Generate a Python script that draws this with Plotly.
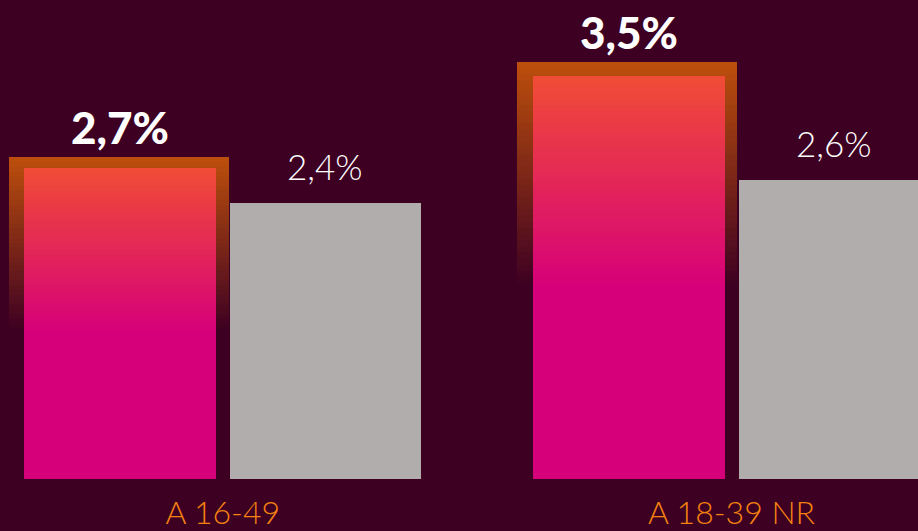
import plotly.graph_objects as go

categories = ["A 16-49", "A 18-39 NR"]
highlight_values = [2.7, 3.5]
compare_values = [2.4, 2.6]
highlight_labels = ["2,7%", "3,5%"]
compare_labels = ["2,4%", "2,6%"]

BG = "#3d0022"
GRAY = "#b0adac"
ORANGE_TXT = "#f5820f"

def lerp(c1, c2, t):
    return "rgb({},{},{})".format(*[round(a + (b - a) * t) for a, b in zip(c1, c2)])

glow_top = (187, 78, 12)
bg_rgb = (61, 0, 34)
inner_top = (240, 75, 55)
pink = (214, 0, 122)

off = 0.2015
w_inner = 0.3774
w_glow = 0.4324
w_gray = 0.3754
glow_scale = 1.036
N = 36

xi = list(range(len(categories)))
x_high = [i - off for i in xi]
x_glow = [i - off - 0.003 for i in xi]
x_gray = [i + off for i in xi]

fig = go.Figure()

# glow (orange halo fading into background)
fade_g = 0.53
for k in range(N + 1):
    t = k / N
    frac = 1 - fade_g * t
    fig.add_trace(go.Bar(
        x=x_glow, y=[v * glow_scale * frac for v in highlight_values],
        width=w_glow, marker=dict(color=lerp(glow_top, bg_rgb, t), line=dict(width=0)),
        hoverinfo="skip", showlegend=False))

# highlighted bar with vertical gradient
fade_i = 0.52
for k in range(N + 1):
    t = k / N
    frac = 1 - fade_i * t
    fig.add_trace(go.Bar(
        x=x_high, y=[v * frac for v in highlight_values],
        width=w_inner, marker=dict(color=lerp(inner_top, pink, t), line=dict(width=0)),
        hoverinfo="skip", showlegend=False))

# comparison bars
fig.add_trace(go.Bar(
    x=x_gray, y=compare_values, width=w_gray,
    marker=dict(color=GRAY, line=dict(width=0)),
    hoverinfo="skip", showlegend=False))

annotations = []
for i in xi:
    annotations.append(dict(
        x=x_high[i], y=highlight_values[i] * glow_scale, xref="x", yref="y",
        text=highlight_labels[i], showarrow=False, yanchor="bottom", yshift=2,
        font=dict(family="Lato", size=44, color="white", weight=900)))
    annotations.append(dict(
        x=x_gray[i], y=compare_values[i], xref="x", yref="y",
        text=compare_labels[i], showarrow=False, yanchor="bottom", yshift=14,
        font=dict(family="Lato", size=35, color="white", weight=300)))

fig.update_layout(
    width=918, height=531,
    margin=dict(l=0, r=0, t=0, b=52),
    paper_bgcolor=BG, plot_bgcolor=BG,
    barmode="overlay", bargap=0,
    annotations=annotations,
    xaxis=dict(range=[-0.4378, 1.3666], tickvals=xi, ticktext=categories,
               showgrid=False, zeroline=False, showline=False, ticks="",
               ticklabelstandoff=12,
               tickfont=dict(family="Lato", size=32, color=ORANGE_TXT, weight=300),
               fixedrange=True),
    yaxis=dict(range=[0, 4.165], showgrid=False, zeroline=False, showline=False,
               showticklabels=False, ticks="", fixedrange=True),
)

fig.write_html(
    "out.html",
    config={"displayModeBar": False},
    post_script="document.body.style.margin='0';document.body.style.background='%s';" % BG,
)
